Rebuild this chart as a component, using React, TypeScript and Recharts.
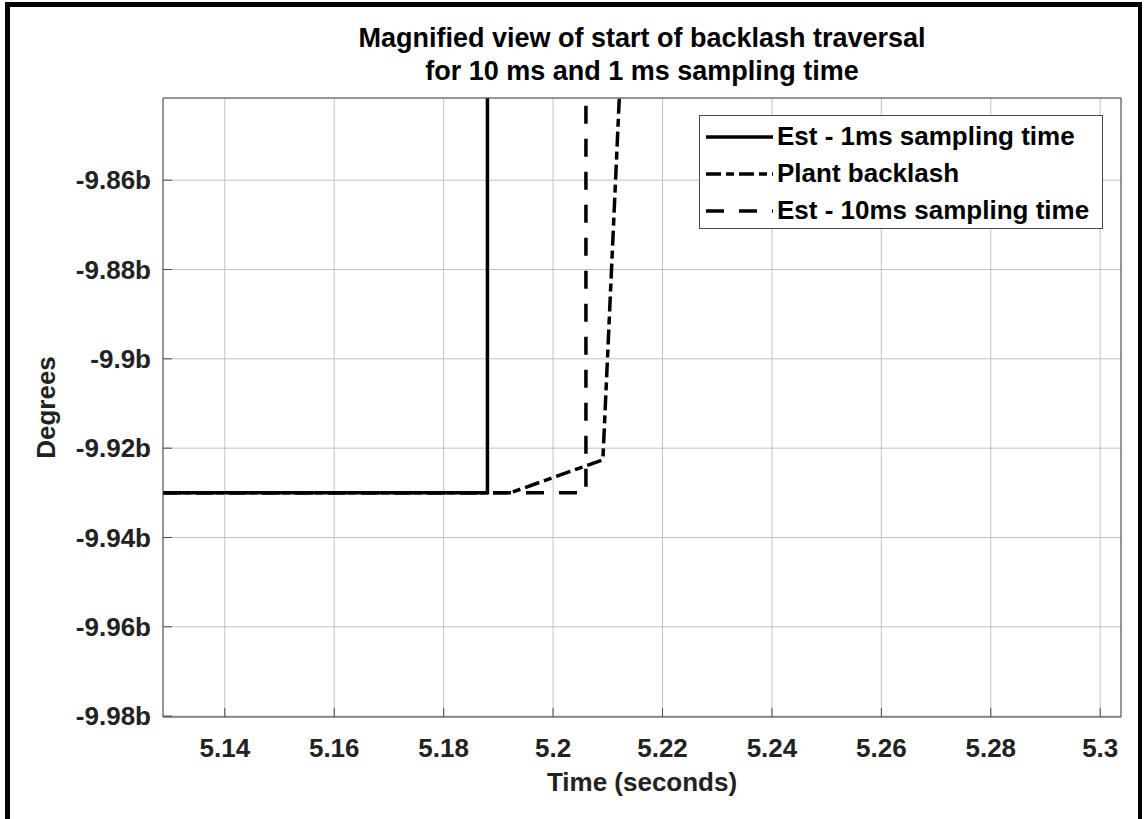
import React from "react";
import { CartesianGrid, Legend, Line, LineChart, XAxis, YAxis } from "recharts";

// axis ticks
const timeTicks = [5.14, 5.16, 5.18, 5.2, 5.22, 5.24, 5.26, 5.28, 5.3];
const degreeTicks = [-9.98, -9.96, -9.94, -9.92, -9.9, -9.88, -9.86];

// Est - 1ms sampling time
const est1msTime = [5.1287, 5.188, 5.188];
const est1msDeg = [-9.93, -9.93, -9.8416];

// Plant backlash
const plantTime = [5.1287, 5.1922, 5.2091, 5.2121];
const plantDeg = [-9.93, -9.93, -9.9226, -9.8416];

// Est - 10ms sampling time
const est10msTime = [5.1287, 5.206, 5.206];
const est10msDeg = [-9.93, -9.93, -9.8416];

const toPoints = (xs: number[], ys: number[]) => xs.map((x, i) => ({ x, y: ys[i] }));

const FONT = '"Liberation Sans", Arial, sans-serif';
const AXIS = "#4a4a4a";
const TXT = "#222222";

const series = [
  { name: "Est - 1ms sampling time", data: toPoints(est1msTime, est1msDeg), dash: undefined as string | undefined },
  { name: "Plant backlash", data: toPoints(plantTime, plantDeg), dash: "15 5 8 5" },
  { name: "Est - 10ms sampling time", data: toPoints(est10msTime, est10msDeg), dash: "18 15" },
];

const tickStyle = { fill: TXT, fontSize: 26, fontWeight: 700, fontFamily: FONT };

const LegendBox = () => (
  <div
    style={{
      width: 404,
      height: 114,
      boxSizing: "border-box",
      border: `1px solid ${AXIS}`,
      background: "#fff",
      paddingTop: 2,
    }}
  >
    {series.map((s) => (
      <div key={s.name} style={{ display: "flex", alignItems: "center", height: 37 }}>
        <svg width={77} height={10} style={{ flex: "none" }}>
          <line x1={6} x2={73} y1={5} y2={5} stroke="#000" strokeWidth={3.5} strokeDasharray={s.dash} />
        </svg>
        <span style={{ fontFamily: FONT, fontWeight: 700, fontSize: 26, color: "#000", whiteSpace: "nowrap" }}>
          {s.name}
        </span>
      </div>
    ))}
  </div>
);

export default function App() {
  return (
    <div style={{ position: "absolute", left: 0, top: 0, width: 1144, height: 819, background: "#fff", overflow: "hidden" }}>
      <div
        style={{
          position: "absolute",
          left: 5,
          top: 2,
          width: 1137,
          height: 830,
          borderLeft: "5px solid #000",
          borderTop: "5px solid #000",
          borderRight: "4px solid #000",
          boxSizing: "border-box",
        }}
      />
      <div
        style={{
          position: "absolute",
          left: 163,
          width: 958,
          top: 22,
          textAlign: "center",
          fontFamily: FONT,
          fontWeight: 700,
          fontSize: 27,
          lineHeight: "33px",
          color: "#000",
        }}
      >
        Magnified view of start of backlash traversal
        <br />
        for 10 ms and 1 ms sampling time
      </div>
      <div style={{ position: "absolute", left: 0, top: 0 }}>
        <LineChart width={1144} height={819} margin={{ top: 97, right: 22, bottom: 0, left: 0 }}>
          <CartesianGrid stroke="#c2c2c2" strokeWidth={1} />
          <XAxis
            dataKey="x"
            type="number"
            domain={[5.1287, 5.3038]}
            allowDataOverflow
            ticks={timeTicks}
            height={102}
            stroke={AXIS}
            tickSize={-9}
            tickMargin={31}
            tick={tickStyle}
            label={{
              content: (props: any) => {
                const vb = props.viewBox;
                return (
                  <text
                    x={vb.x + vb.width / 2}
                    y={vb.y + 65}
                    textAnchor="middle"
                    dominantBaseline="central"
                    fill={TXT}
                    fontSize={26}
                    fontWeight={700}
                    fontFamily={FONT}
                  >
                    Time (seconds)
                  </text>
                );
              },
            }}
          />
          <XAxis
            xAxisId="top"
            orientation="top"
            type="number"
            domain={[5.1287, 5.3038]}
            allowDataOverflow
            ticks={timeTicks}
            height={1}
            stroke={AXIS}
            tickSize={-9}
            tick={false}
          />
          <YAxis
            type="number"
            domain={[-9.9802, -9.8416]}
            allowDataOverflow
            ticks={degreeTicks}
            width={163}
            stroke={AXIS}
            tickSize={-9}
            tickMargin={21}
            tick={tickStyle}
            tickFormatter={(v: number) => `${v}b`}
            label={{
              content: (props: any) => {
                const vb = props.viewBox;
                const cx = vb.x + 46;
                const cy = vb.y + vb.height / 2;
                return (
                  <text
                    x={cx}
                    y={cy}
                    transform={`rotate(-90 ${cx} ${cy})`}
                    textAnchor="middle"
                    dominantBaseline="central"
                    fill={TXT}
                    fontSize={26}
                    fontWeight={700}
                    fontFamily={FONT}
                  >
                    Degrees
                  </text>
                );
              },
            }}
          />
          <YAxis
            yAxisId="right"
            orientation="right"
            type="number"
            domain={[-9.9802, -9.8416]}
            allowDataOverflow
            ticks={degreeTicks}
            width={1}
            stroke={AXIS}
            tickSize={-9}
            tick={false}
          />
          {series.map((s) => (
            <Line
              key={s.name}
              data={s.data}
              dataKey="y"
              name={s.name}
              type="linear"
              stroke="#000"
              strokeWidth={3.5}
              strokeDasharray={s.dash}
              dot={false}
              activeDot={false}
              isAnimationActive={false}
            />
          ))}
          <Legend
            layout="vertical"
            align="center"
            verticalAlign="middle"
            content={() => <LegendBox />}
            wrapperStyle={{ left: 699, top: 115, width: 404, height: 114 }}
          />
        </LineChart>
      </div>
    </div>
  );
}
